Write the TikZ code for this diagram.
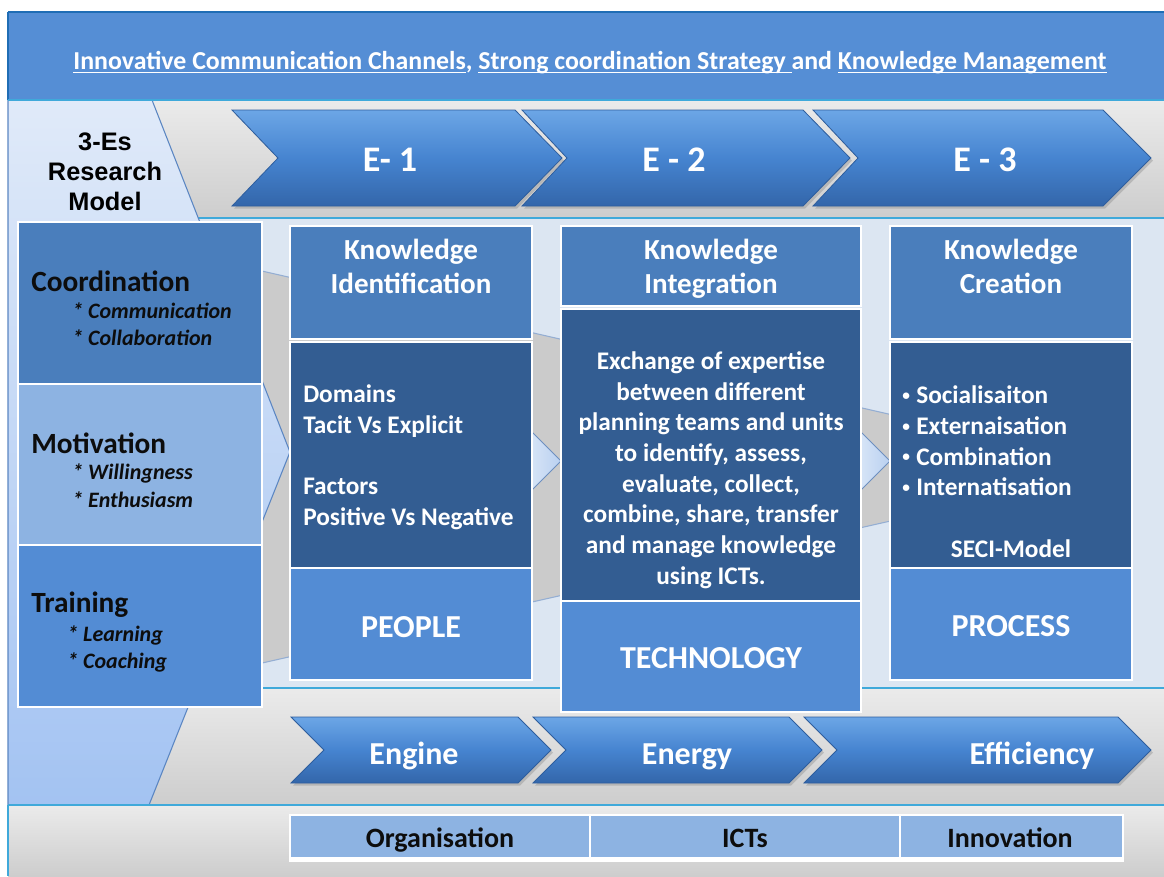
\documentclass[tikz,border=0pt]{standalone}
\usepackage{fontspec}
\setmainfont{Carlito}
\newfontfamily\arialf{Liberation Sans}
\usetikzlibrary{shadows,fit}
\newcommand\myfs[2]{\fontsize{#1}{#2}\selectfont}
\newsavebox\myulbox
\newcommand\myul[1]{\sbox\myulbox{#1}\rlap{\rule[-3.2pt]{\wd\myulbox}{1.1pt}}\usebox\myulbox}
\newcommand\mybul{\makebox[10.5pt][l]{\raisebox{2.6pt}{\myfs{11.5}{12}\textbullet}}}
\definecolor{bannerblue}{HTML}{558ED5}
\definecolor{topline}{HTML}{1F6DB5}
\definecolor{cyanline}{HTML}{3FA9DA}
\definecolor{hdrblue}{HTML}{4A7EBC}
\definecolor{bodyblue}{HTML}{335D92}
\definecolor{ftrblue}{HTML}{538CD4}
\definecolor{motblue}{HTML}{8DB3E2}
\definecolor{paleblue}{HTML}{DCE6F2}
\definecolor{txtblack}{HTML}{0D0D0D}
\definecolor{grayA}{HTML}{EBEBEB}
\definecolor{grayB}{HTML}{CDCDCD}
\definecolor{arrowgray}{HTML}{CBCBCB}
\definecolor{arrowedge}{HTML}{94AED3}
\definecolor{chevtop}{HTML}{6CA6E6}
\definecolor{chevmid}{HTML}{4684D0}
\definecolor{chevbot}{HTML}{3366AA}
\definecolor{chevedge}{HTML}{2E5E9E}
\definecolor{bigchevtop}{HTML}{E0EAF9}
\definecolor{bigchevbot}{HTML}{A3C3F2}
\definecolor{bigchevedge}{HTML}{5B86C2}
\definecolor{smallchevL}{HTML}{E6EFFA}
\definecolor{smallchevR}{HTML}{B9D0F0}
\definecolor{smallchevedge}{HTML}{6D8FC0}
\begin{document}
\begin{tikzpicture}[x=0.75pt,y=-0.75pt,
  box/.style={draw=white, line width=1.4pt, inner sep=0pt},
  chev/.style={top color=chevtop, bottom color=chevbot, middle color=chevmid,
     draw=chevedge, line width=0.6pt,
     drop shadow={opacity=0.35, shadow xshift=1.5pt, shadow yshift=-2pt}},
  smallchev/.style={left color=smallchevL, right color=smallchevR, draw=smallchevedge, line width=0.7pt},
  chevtext/.style={text=white, font=\bfseries\myfs{27}{30}},
  chevtext2/.style={text=white, font=\bfseries\myfs{24}{28}, anchor=base, inner sep=0pt},
  hdrtext/.style={text=white, font=\bfseries\myfs{21.8}{25.5}, align=center},
  bodytext/.style={text=white, font=\bfseries\myfs{19}{23}, inner sep=0pt},
  ftrtext/.style={text=white, font=\bfseries\myfs{24}{28}},
  lefthead/.style={text=txtblack, font=\bfseries\myfs{22}{26}, inner sep=0pt},
  leftsub/.style={text=txtblack, font=\bfseries\itshape\myfs{16.5}{20}, inner sep=0pt},
  tbltext/.style={text=txtblack, font=\bfseries\myfs{21}{25}, anchor=base, inner sep=0pt}
]
\useasboundingbox (0,0) rectangle (1164,876);
\fill[white] (0,0) rectangle (1164,876);
% bands
\shade[top color=grayA, bottom color=grayB] (8,100) rectangle (1164,218);
\fill[paleblue] (8,218) rectangle (1164,688);
\shade[top color=grayA, bottom color=grayB] (8,688) rectangle (1164,805);
\shade[top color=grayA, bottom color=grayB] (8,805) rectangle (1164,876);
\draw[cyanline, line width=1.5pt] (8,218) -- (1164,218);
\draw[cyanline, line width=1.5pt] (8,688) -- (1164,688);
% gray tapered arrow behind the columns
\path[fill=arrowgray, draw=arrowedge, line width=0.8pt] (240,266) -- (1125,468) -- (240,668) -- cycle;
% small light chevrons in the gaps
\path[smallchev] (515,415) -- (561,461) -- (515,507) -- cycle;
\path[smallchev] (845,416) -- (890,461) -- (845,506) -- cycle;
% big left chevron
\path[top color=bigchevtop, bottom color=bigchevbot, draw=bigchevedge, line width=0.8pt]
  (8,100) -- (152,100) -- (290,452) -- (149,805) -- (8,805) -- cycle;
\draw[cyanline, line width=1.5pt] (8,805) -- (1164,805);
\draw[cyanline, line width=1pt] (8,805) -- (8,876);
% banner
\fill[bannerblue] (8,12) rectangle (1164,100);
\draw[topline, line width=2pt] (8,12) -- (1164,12);
\draw[topline, line width=1pt] (8,12) -- (8,100);
\draw[cyanline, line width=1.5pt] (8,100) -- (1164,100);
\node[anchor=base, text=white, font=\bfseries\myfs{19.4}{22}, inner sep=0pt] (banner) at (590,69)
  {\myul{Innovative Communication Channels}, \myul{Strong coordination Strategy\ }and \myul{Knowledge Management}};
% model title
\node[align=center, text=black, font=\arialf\bfseries\myfs{19}{22.5}] (model) at (105,172) {3-Es\\Research\\Model};
% E chevrons
\path[chev] (813,110) -- (1103,110) -- (1151,158) -- (1103,206) -- (813,206) -- (858,158) -- cycle;
\path[chev] (522,110) -- (803,110) -- (850,158) -- (803,206) -- (522,206) -- (567,158) -- cycle;
\path[chev] (232,110) -- (515,110) -- (562,158) -- (515,206) -- (232,206) -- (278,158) -- cycle;
\node[chevtext] (e1) at (390,160) {E- 1};
\node[chevtext] (e2) at (674,160) {E - 2};
\node[chevtext] (e3) at (985,160) {E - 3};
% bottom chevrons
\path[chev] (804,717) -- (1118,717) -- (1151,750) -- (1118,783) -- (804,783) -- (837,750) -- cycle;
\path[chev] (533,717) -- (789,717) -- (822,750) -- (789,783) -- (533,783) -- (566,750) -- cycle;
\path[chev] (291,717) -- (518,717) -- (551,750) -- (518,783) -- (291,783) -- (324,750) -- cycle;
\node[chevtext2] (engine) at (414,764) {Engine};
\node[chevtext2] (energy) at (687,764) {Energy};
\node[chevtext2] (effic) at (1032,764) {Efficiency};
% left boxes
\node[box, fill=hdrblue, fit={(18,222) (262,384)}] (coord) {};
\node[box, fill=motblue, fit={(18,384) (262,545)}] (motiv) {};
\node[box, fill=ftrblue, fit={(18,545) (262,707)}] (train) {};
\node[lefthead, anchor=west] (coordt) at (31,281) {Coordination};
\node[leftsub, anchor=west] (comm) at (72,311) {* Communication};
\node[leftsub, anchor=west] (collab) at (72,338) {* Collaboration};
\node[lefthead, anchor=west] (motivt) at (31,443) {Motivation};
\node[leftsub, anchor=west] (will) at (72,473) {* Willingness};
\node[leftsub, anchor=west] (enth) at (72,500) {* Enthusiasm};
\node[lefthead, anchor=west] (traint) at (31,605) {Training};
\node[leftsub, anchor=west] (learn) at (67,635) {* Learning};
\node[leftsub, anchor=west] (coach) at (67,662) {* Coaching};
% column 1
\node[box, fill=hdrblue, fit={(290,226) (532,339)}] (h1) {};
\node[box, fill=bodyblue, fit={(290,342) (532,568)}] (b1) {};
\node[box, fill=ftrblue, fit={(290,568) (532,680)}] (f1) {};
\node[hdrtext] (h1t) at (411,266.5) {Knowledge\\Identification};
\node[bodytext, anchor=west, align=left] (b1t) at (303,457) {Domains\\Tacit Vs Explicit\\[23pt]Factors\\Positive Vs Negative};
\node[ftrtext] (people) at (411,627) {PEOPLE};
% column 2
\node[box, fill=hdrblue, fit={(561,226) (861,306)}] (h2) {};
\node[box, fill=bodyblue, fit={(561,309) (861,601)}] (b2) {};
\node[box, fill=ftrblue, fit={(561,601) (861,712)}] (f2) {};
\node[hdrtext] (h2t) at (711,269) {Knowledge\\Integration};
\node[bodytext, align=center] (b2t) at (711,470) {Exchange of expertise\\between different\\planning teams and units\\to identify, assess,\\evaluate, collect,\\combine, share, transfer\\and manage knowledge\\using ICTs.};
\node[ftrtext] (techn) at (711,658) {TECHNOLOGY};
% column 3
\node[box, fill=hdrblue, fit={(890,226) (1132,339)}] (h3) {};
\node[box, fill=bodyblue, fit={(890,342) (1132,568)}] (b3) {};
\node[box, fill=ftrblue, fit={(890,568) (1132,680)}] (f3) {};
\node[hdrtext] (h3t) at (1011,266.5) {Knowledge\\Creation};
\node[bodytext, anchor=west, align=left] (b3t) at (902,441) {\mybul Socialisaiton\\\mybul Externaisation\\\mybul Combination\\\mybul Internatisation};
\node[bodytext] (seci) at (1011,549) {SECI-Model};
\node[ftrtext] (process) at (1011,626) {PROCESS};
% bottom table
\fill[white] (289,857) rectangle (1124,862);
\node[box, fill=motblue, fit={(290,815) (590,858)}] (t1) {};
\node[box, fill=motblue, fit={(590,815) (900,858)}] (t2) {};
\node[box, fill=motblue, fit={(900,815) (1123,858)}] (t3) {};
\node[tbltext] (org) at (440,847) {Organisation};
\node[tbltext] (icts) at (745,847) {ICTs};
\node[tbltext] (innov) at (1010,847) {Innovation};
\end{tikzpicture}
\end{document}
